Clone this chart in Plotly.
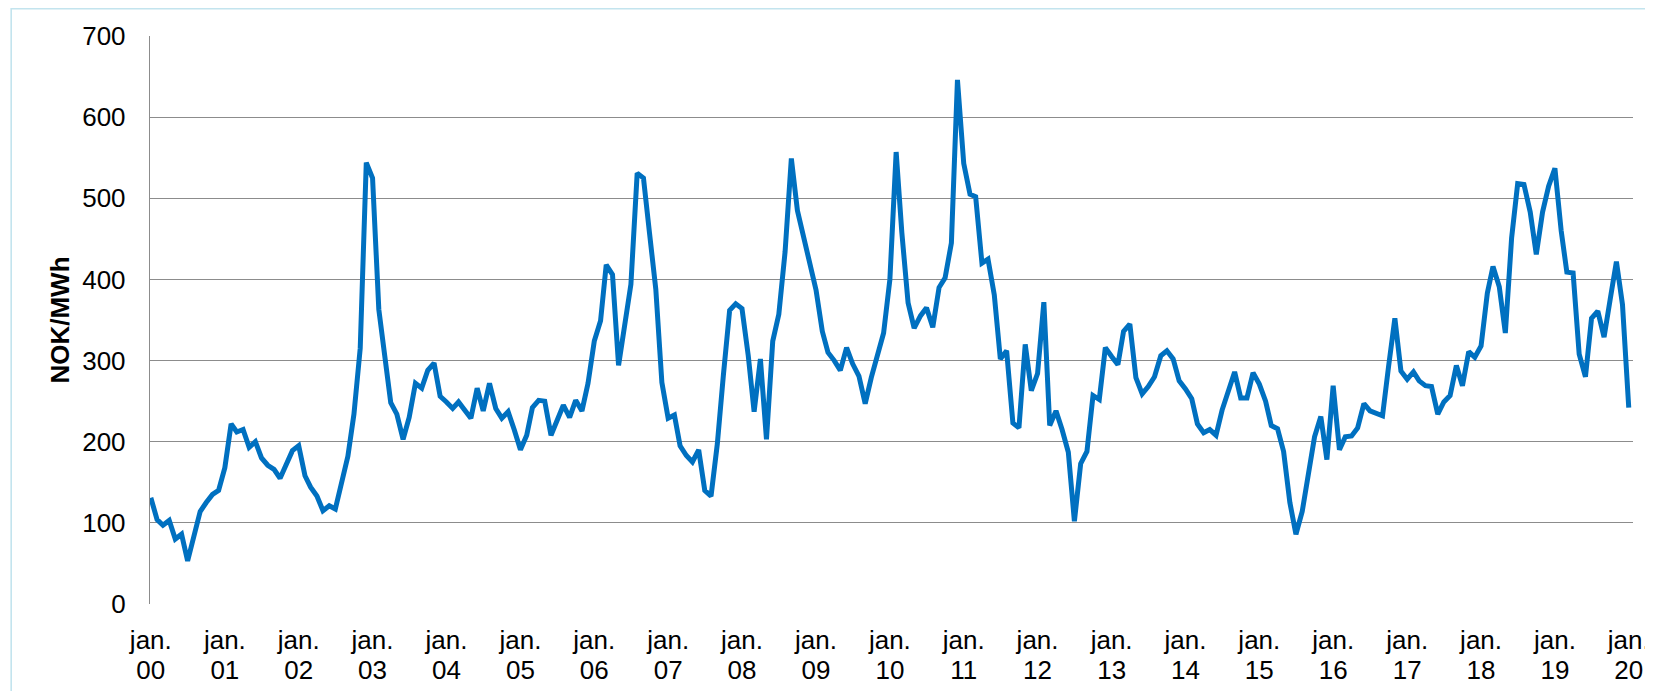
import pandas as pd
import plotly.graph_objects as go

# Monthly system price, Jan 2000 .. Jan 2020 (NOK/MWh)
prices = [
    131, 104, 97, 103, 80, 86, 53, 82, 114, 125, 135, 140,          # 2000
    168, 222, 212, 215, 193, 200, 180, 171, 166, 155, 174, 189,     # 2001
    195, 158, 144, 133, 115, 121, 117, 152, 182, 234, 315, 544,     # 2002
    525, 363, 303, 248, 234, 203, 230, 272, 266, 288, 297, 256,     # 2003
    249, 241, 249, 239, 229, 266, 238, 272, 241, 229, 237, 215,     # 2004
    190, 208, 242, 251, 250, 208, 227, 245, 230, 251, 238, 272,     # 2005
    324, 349, 418, 406, 294, 347, 394, 531, 525, 457, 388, 273,     # 2006
    229, 233, 195, 183, 175, 190, 140, 133, 197, 282, 362, 370,     # 2007
    364, 306, 237, 302, 203, 324, 357, 434, 549, 485, 453, 421,     # 2008
    387, 336, 310, 300, 288, 316, 296, 281, 247, 279, 306, 334,     # 2009
    400, 557, 458, 371, 340, 355, 365, 341, 390, 402, 445, 646,     # 2010
    543, 505, 502, 420, 425, 381, 302, 312, 223, 217, 320, 263,     # 2011
    284, 372, 220, 238, 215, 187, 102, 173, 188, 257, 252, 316,     # 2012
    305, 295, 336, 345, 279, 259, 268, 280, 306, 312, 302, 275,     # 2013
    265, 253, 222, 211, 215, 208, 239, 264, 286, 254, 254, 285,     # 2014
    271, 250, 220, 216, 188, 125, 86, 114, 160, 206, 231, 178,      # 2015
    269, 190, 206, 207, 217, 247, 238, 235, 232, 293, 352, 287,     # 2016
    277, 286, 275, 269, 268, 234, 249, 257, 294, 269, 311, 304,     # 2017
    318, 383, 416, 391, 334, 451, 518, 517, 483, 431, 483, 515,     # 2018
    537, 460, 409, 408, 308, 280, 352, 361, 329, 375, 422, 369,     # 2019
    242,                                                            # Jan 2020
]
months = pd.date_range("2000-01-01", periods=len(prices), freq="MS")

tick_years = list(range(2000, 2021))
tick_dates = [f"{y}-01-01" for y in tick_years]
tick_month_text = ["jan." for y in tick_years]
tick_year_text = [f"{y % 100:02d}" for y in tick_years]
y_ticks = [0, 100, 200, 300, 400, 500, 600, 700]

FONT = "Liberation Sans, Arial, sans-serif"
FS = 26
GRID = "#8c8c8c"
X_RANGE = ["1999-12-28", "2020-01-22"]

fig = go.Figure()
fig.add_trace(go.Scatter(
    x=months, y=prices, mode="lines",
    line=dict(color="#0070C0", width=5),
    hoverinfo="x+y", showlegend=False,
))
# same series on the overlay axis (invisible) so that the year-label axis is drawn
fig.add_trace(go.Scatter(
    x=months, y=prices, mode="lines", xaxis="x2",
    line=dict(color="rgba(0,0,0,0)", width=0),
    hoverinfo="skip", showlegend=False,
))

common_x = dict(
    type="date", range=X_RANGE,
    tickmode="array", tickvals=tick_dates,
    showgrid=False, zeroline=False, showline=False,
    ticks="", tickangle=0, ticklabeloverflow="allow",
    tickfont=dict(family=FONT, size=FS, color="#000000"),
)

fig.update_layout(
    width=1653, height=691,
    margin=dict(l=142, r=11, t=28, b=95),
    paper_bgcolor="white", plot_bgcolor="white",
    font=dict(family=FONT, size=FS, color="#000000"),
    xaxis=dict(**common_x, ticktext=tick_month_text, ticklabelstandoff=18),
    xaxis2=dict(**common_x, ticktext=tick_year_text, ticklabelstandoff=48,
                overlaying="x", side="bottom", anchor="y"),
    yaxis=dict(
        range=[0, 700],
        tickmode="array", tickvals=y_ticks,
        showgrid=True, gridcolor=GRID, gridwidth=1.4,
        zeroline=False,
        showline=True, linecolor=GRID, linewidth=1.4,
        ticks="", ticklabelstandoff=18,
        tickfont=dict(family=FONT, size=FS, color="#000000"),
        title=dict(text="<b>NOK/MWh</b>", standoff=5,
                   font=dict(family=FONT, size=FS, color="#000000")),
    ),
    shapes=[dict(
        type="rect", xref="paper", yref="paper",
        x0=-0.0936, x1=1.05, y0=-0.3, y1=1.048,
        line=dict(color="#c3e4ee", width=1.6), fillcolor="rgba(0,0,0,0)",
        layer="below",
    )],
)

fig.write_html("out.html")
